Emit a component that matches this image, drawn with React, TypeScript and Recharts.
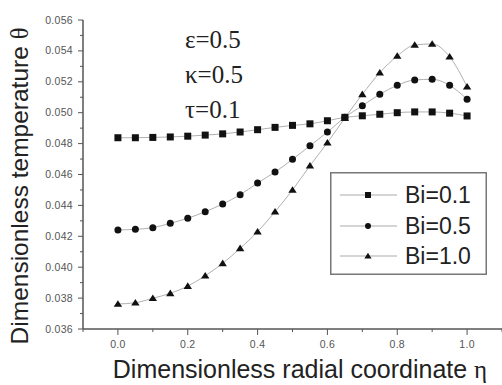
import React from "react";
import { LineChart, Line, XAxis, YAxis, Legend } from "recharts";

const eta = [0, 0.05, 0.1, 0.15, 0.2, 0.25, 0.3, 0.35, 0.4, 0.45, 0.5, 0.55, 0.6, 0.65, 0.7, 0.75, 0.8, 0.85, 0.9, 0.95, 1.0];
const bi01 = [0.04838, 0.04838, 0.0484, 0.04843, 0.04848, 0.04855, 0.04863, 0.04875, 0.0489, 0.04905, 0.04918, 0.04928, 0.04948, 0.0497, 0.0498, 0.0499, 0.05, 0.05005, 0.05005, 0.04997, 0.04979];
const bi05 = [0.04241, 0.04245, 0.04256, 0.04284, 0.04317, 0.04359, 0.04409, 0.04469, 0.04545, 0.04616, 0.04698, 0.04786, 0.04875, 0.0497, 0.05045, 0.05119, 0.05177, 0.05212, 0.05216, 0.05177, 0.05087];
const bi10 = [0.03762, 0.0377, 0.03799, 0.03831, 0.03878, 0.03945, 0.04025, 0.04122, 0.0423, 0.04359, 0.045, 0.04657, 0.04806, 0.04966, 0.05119, 0.05259, 0.05367, 0.05438, 0.05445, 0.05362, 0.05168];

const seriesNames = ["Bi=0.1", "Bi=0.5", "Bi=1.0"];
const xTicks = [-0.1, 0, 0.1, 0.2, 0.3, 0.4, 0.5, 0.6, 0.7, 0.8, 0.9, 1.0, 1.1];
const xLabels = ["0.0", "0.2", "0.4", "0.6", "0.8", "1.0"];
const yTicks = [0.036, 0.037, 0.038, 0.039, 0.04, 0.041, 0.042, 0.043, 0.044, 0.045, 0.046, 0.047, 0.048, 0.049, 0.05, 0.051, 0.052, 0.053, 0.054, 0.055, 0.056];
const yLabels = ["0.036", "0.038", "0.040", "0.042", "0.044", "0.046", "0.048", "0.050", "0.052", "0.054", "0.056"];
const params = ["\u03b5=0.5", "\u03ba=0.5", "\u03c4=0.1"];

const data = eta.map((e, i) => ({ eta: e, b1: bi01[i], b5: bi05[i], b10: bi10[i] }));

const SANS = "'Liberation Sans', Arial, sans-serif";
const SERIF = "'Liberation Serif', 'Times New Roman', serif";
const AXIS = "#555";

const XTick = (props: any) => {
  const { x, y, payload } = props;
  const lbl = (Number(payload.value) < 0 ? "-" : "") + Math.abs(Number(payload.value)).toFixed(1);
  const major = xLabels.includes(lbl);
  return (
    <g>
      <line x1={x} y1={y} x2={x} y2={y + (major ? 6 : 3)} stroke={AXIS} strokeWidth={1} />
      {major && (
        <text x={x} y={y + 19} textAnchor="middle" fontSize={10.5} letterSpacing={0.3} fill="#555" fontFamily={SANS}>
          {lbl}
        </text>
      )}
    </g>
  );
};

const YTick = (props: any) => {
  const { x, y, payload } = props;
  const lbl = Number(payload.value).toFixed(3);
  const major = yLabels.includes(lbl);
  return (
    <g>
      <line x1={x - (major ? 5 : 3)} y1={y} x2={x} y2={y} stroke={AXIS} strokeWidth={1} />
      {major && (
        <text x={x - 10} y={y + 3.5} textAnchor="end" fontSize={10.5} letterSpacing={0.3} fill="#555" fontFamily={SANS}>
          {lbl}
        </text>
      )}
    </g>
  );
};

const Marker = ({ kind, cx, cy, s }: { kind: number; cx: number; cy: number; s: number }) => {
  if (kind === 0) return <rect x={cx - s / 2} y={cy - s / 2} width={s} height={s} fill="#111" />;
  if (kind === 1) return <circle cx={cx} cy={cy} r={s / 2} fill="#111" />;
  const h = s * 0.9;
  return <polygon points={`${cx},${cy - h * 0.6} ${cx + s * 0.6},${cy + h * 0.45} ${cx - s * 0.6},${cy + h * 0.45}`} fill="#111" />;
};

const makeDot = (kind: number) => (p: any) => (
  <g key={`d${kind}-${p.index}`}>
    <Marker kind={kind} cx={p.cx} cy={p.cy} s={7} />
  </g>
);

const LegendBox = (props: any) => {
  const payload = props.payload || [];
  const rows = [23, 54, 84];
  return (
    <svg width={157} height={103} style={{ display: "block" }}>
      <rect x={0.75} y={0.75} width={155.5} height={101.5} fill="#fff" stroke="#777" strokeWidth={1.5} />
      {payload.map((entry: any, i: number) => (
        <g key={i}>
          <line x1={10} y1={rows[i]} x2={67} y2={rows[i]} stroke="#aaa" strokeWidth={1} />
          <Marker kind={i} cx={38} cy={rows[i]} s={6} />
          <text x={75} y={rows[i] + 8} fontSize={23} fill="#222" fontFamily={SANS}>
            {entry.value}
          </text>
        </g>
      ))}
    </svg>
  );
};

export default function App() {
  return (
    <div style={{ position: "absolute", left: 0, top: 0, width: 502, height: 385, background: "#fff" }}>
      <LineChart width={502} height={385} data={data} margin={{ top: 20, right: 0, bottom: 0, left: 0 }}>
        <XAxis
          dataKey="eta"
          type="number"
          domain={[-0.1, 1.1]}
          ticks={xTicks}
          interval={0}
          height={56}
          tickSize={0}
          tickMargin={0}
          tickLine={false}
          tick={<XTick />}
          axisLine={{ stroke: AXIS, strokeWidth: 1.5 }}
          allowDataOverflow
        />
        <YAxis
          type="number"
          domain={[0.036, 0.056]}
          ticks={yTicks}
          interval={0}
          width={83}
          tickSize={0}
          tickMargin={0}
          tickLine={false}
          tick={<YTick />}
          axisLine={{ stroke: AXIS, strokeWidth: 1.5 }}
          allowDataOverflow
        />
        <Legend
          layout="vertical"
          align="center"
          verticalAlign="middle"
          content={<LegendBox />}
          wrapperStyle={{ position: "absolute", left: 330, top: 172, width: 157, height: 103 }}
        />
        <Line dataKey="b1" name={seriesNames[0]} type="monotone" stroke="#b0b0b0" strokeWidth={1} dot={makeDot(0)} activeDot={false} isAnimationActive={false} />
        <Line dataKey="b5" name={seriesNames[1]} type="monotone" stroke="#b0b0b0" strokeWidth={1} dot={makeDot(1)} activeDot={false} isAnimationActive={false} />
        <Line dataKey="b10" name={seriesNames[2]} type="monotone" stroke="#b0b0b0" strokeWidth={1} dot={makeDot(2)} activeDot={false} isAnimationActive={false} />
      </LineChart>
      <svg width={502} height={385} style={{ position: "absolute", left: 0, top: 0, pointerEvents: "none" }}>
        <text transform="translate(28,186) rotate(-90)" textAnchor="middle" fontSize={24.5} fill="#222" fontFamily={SANS}>
          Dimensionless temperature <tspan fontFamily={SERIF}>θ</tspan>
        </text>
        <text x={300} y={378} textAnchor="middle" fontSize={25} fill="#222" fontFamily={SANS}>
          Dimensionless radial coordinate <tspan fontFamily={SERIF}>η</tspan>
        </text>
        {params.map((p, i) => (
          <text key={p} x={185} y={48 + i * 35} fontSize={25} fill="#222" fontFamily={SERIF}>
            {p}
          </text>
        ))}
      </svg>
    </div>
  );
}
